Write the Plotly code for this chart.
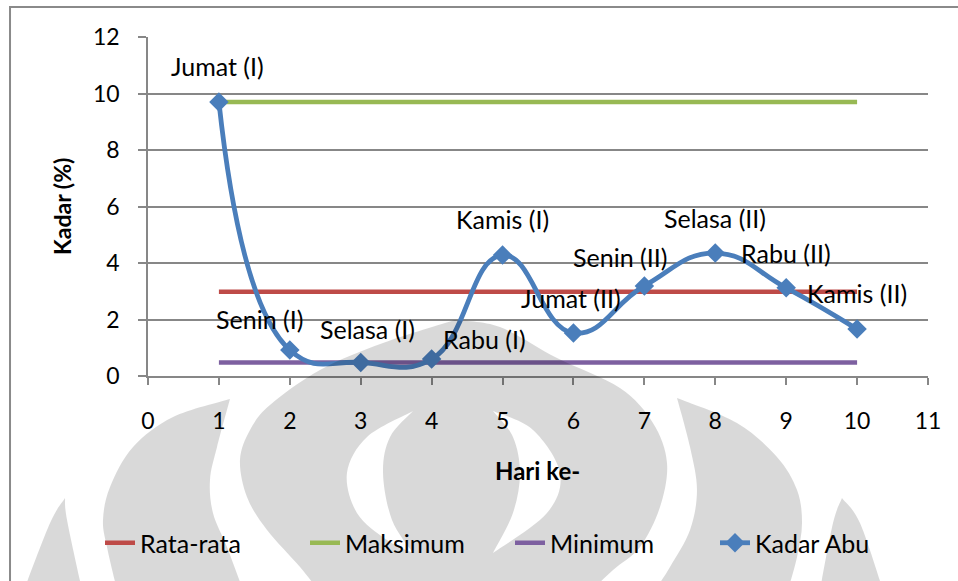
import numpy as np
import plotly.graph_objects as go

# ---- data -------------------------------------------------------------
hari = [1, 2, 3, 4, 5, 6, 7, 8, 9, 10]
kadar_abu = [9.70, 0.92, 0.48, 0.60, 4.28, 1.52, 3.19, 4.35, 3.12, 1.66]
nama_hari = ["Jumat (I)", "Senin (I)", "Selasa (I)", "Rabu (I)", "Kamis (I)",
             "Jumat (II)", "Senin (II)", "Selasa (II)", "Rabu (II)", "Kamis (II)"]
x_ticks = list(range(0, 12))
y_ticks = list(range(0, 13, 2))

rata_rata = float(np.mean(kadar_abu))
maksimum = max(kadar_abu)
minimum = min(kadar_abu)

# label offsets (px) relative to each point
label_dx = [-1, -30, 7, 53, 0, -2, -24, 0, 0, 0]
label_dy = [36, 31, 33, 20, 36, 35, 29, 35, 35, 36]

# ---- figure geometry --------------------------------------------------
W, H = 958, 581
ML, MR, MT, MB = 148, 30, 37, 205
PW, PH = W - ML - MR, H - MT - MB

FONT = "Lato"
GRID = "#878787"


def px(x, y):
    """pixel position -> paper coordinates"""
    return (x - ML) / PW, (H - MB - y) / PH


def smooth(points):
    """Catmull-Rom curve through points as SVG cubic segments (no initial M)."""
    pts = [points[0]] + points + [points[-1]]
    segs = []
    for i in range(1, len(pts) - 2):
        p0, p1, p2, p3 = pts[i - 1], pts[i], pts[i + 1], pts[i + 2]
        c1 = (p1[0] + (p2[0] - p0[0]) / 6, p1[1] + (p2[1] - p0[1]) / 6)
        c2 = (p2[0] - (p3[0] - p1[0]) / 6, p2[1] - (p3[1] - p1[1]) / 6)
        a, b, c = px(*c1), px(*c2), px(*p2)
        segs.append(f"C{a[0]:.4f},{a[1]:.4f} {b[0]:.4f},{b[1]:.4f} {c[0]:.4f},{c[1]:.4f}")
    return " ".join(segs)


def contour(edges):
    """closed contour made of smooth edges joined at corners"""
    start = px(*edges[0][0])
    s = f"M{start[0]:.4f},{start[1]:.4f} "
    for e in edges:
        s += smooth(e) + " "
    return s + "Z "


# background emblem outlines (pixel space)
blob = contour([
    [(455, 320), (500, 327), (557, 358), (620, 388), (653, 423), (667, 463),
     (660, 507), (640, 547), (613, 570), (592, 590)],
    [(592, 590), (318, 590)],
    [(318, 590), (300, 567), (267, 530), (247, 497), (240, 460), (250, 430),
     (270, 405), (320, 370), (383, 343), (455, 320)],
])
hole_left = contour([
    [(413, 411), (367, 437), (347, 473), (357, 513), (387, 540), (413, 553)],
    [(413, 553), (392, 520), (383, 473), (390, 437), (413, 411)],
])
hole_right = contour([
    [(493, 411), (513, 437), (520, 473), (513, 513), (493, 553)],
    [(493, 553), (547, 513), (560, 473), (533, 430), (493, 411)],
])
petal_left = contour([
    [(230, 399), (217, 447), (210, 480), (213, 513), (227, 547), (243, 590)],
    [(243, 590), (117, 590)],
    [(117, 590), (107, 547), (103, 520), (110, 487), (133, 447), (173, 417), (230, 399)],
])
tip_left = contour([
    [(65, 498), (67, 520), (82, 590)],
    [(82, 590), (24, 590)],
    [(24, 590), (50, 523), (65, 498)],
])
petal_right = contour([
    [(677, 398), (737, 423), (777, 457), (797, 490), (802, 523), (797, 557), (788, 590)],
    [(788, 590), (655, 590)],
    [(655, 590), (670, 567), (690, 530), (697, 490), (690, 447), (677, 398)],
])
tip_right = contour([
    [(842, 498), (860, 523), (883, 590)],
    [(883, 590), (820, 590)],
    [(820, 590), (833, 523), (842, 498)],
])

# ---- traces -----------------------------------------------------------
fig = go.Figure()
x_ends = [hari[0], hari[-1]]
for name, val, col in [("Rata-rata", rata_rata, "#BE4B48"),
                       ("Maksimum", maksimum, "#98B954"),
                       ("Minimum", minimum, "#7D60A0")]:
    fig.add_trace(go.Scatter(x=x_ends, y=[val, val], mode="lines", name=name,
                             line=dict(color=col, width=4.5), hoverinfo="skip"))

fig.add_trace(go.Scatter(
    x=hari, y=kadar_abu, mode="lines+markers", name="Kadar Abu",
    line=dict(color="#4A7EBB", width=4.8, shape="spline", smoothing=1.3),
    marker=dict(symbol="diamond", size=15, color="#4A7EBB"),
))

annotations = []
for xi, yi, t, dx, dy in zip(hari, kadar_abu, nama_hari, label_dx, label_dy):
    annotations.append(dict(x=xi, y=yi, xref="x", yref="y", text=t, showarrow=False,
                            xanchor="center", yanchor="middle",
                            xshift=dx, yshift=dy, font=dict(family=FONT, size=25, color="black")))

ax, ay = px(62, 207)
annotations.append(dict(x=ax, y=ay, xref="paper", yref="paper", text="<b>Kadar (%)</b>",
                        textangle=-90, showarrow=False, xanchor="center", yanchor="middle",
                        font=dict(family=FONT, size=23, color="black")))
bx, by = px(537, 470)
annotations.append(dict(x=bx, y=by, xref="paper", yref="paper", text="<b>Hari ke-</b>",
                        showarrow=False, xanchor="center", yanchor="middle",
                        font=dict(family=FONT, size=24, color="black")))

shapes = [dict(type="path", xref="paper", yref="paper", layer="above",
               path=blob + hole_left + hole_right + petal_left + tip_left + petal_right + tip_right,
               fillcolor="rgba(0,0,0,0.15)", line=dict(width=0))]

# outer chart frame (top and left edges)
fx0, fy0 = px(10, 7)
fx1, fy1 = px(W + 5, H + 5)
shapes.append(dict(type="path", xref="paper", yref="paper", layer="above",
                   path=f"M{fx0:.4f},{fy1:.4f} L{fx0:.4f},{fy0:.4f} L{fx1:.4f},{fy0:.4f}",
                   line=dict(color="#8A8A8A", width=2)))

lx, ly = px(100, 543)
fig.update_layout(
    width=W, height=H,
    margin=dict(l=ML, r=MR, t=MT, b=MB, pad=0),
    paper_bgcolor="white", plot_bgcolor="white",
    font=dict(family=FONT, size=23, color="black"),
    showlegend=True,
    legend=dict(orientation="h", x=lx, y=ly, xanchor="left", yanchor="middle",
                font=dict(family=FONT, size=25, color="black"),
                bgcolor="rgba(0,0,0,0)", itemwidth=30, entrywidth=160, entrywidthmode="pixels",
                tracegroupgap=0),
    annotations=annotations,
    shapes=shapes,
    xaxis=dict(range=[0, 11], tickvals=x_ticks, showgrid=False, zeroline=False,
               showline=True, linecolor=GRID, linewidth=1.5,
               ticks="outside", ticklen=7, tickwidth=1.5, tickcolor=GRID,
               ticklabelstandoff=17, tickfont=dict(family=FONT, size=23)),
    yaxis=dict(range=[0, 12], tickvals=y_ticks, showgrid=True, gridcolor=GRID, gridwidth=1.5,
               zeroline=False, showline=True, linecolor=GRID, linewidth=1.5,
               ticks="outside", ticklen=8, tickwidth=1.5, tickcolor=GRID,
               ticklabelstandoff=14, tickfont=dict(family=FONT, size=23)),
)

fig.write_html("out.html")
